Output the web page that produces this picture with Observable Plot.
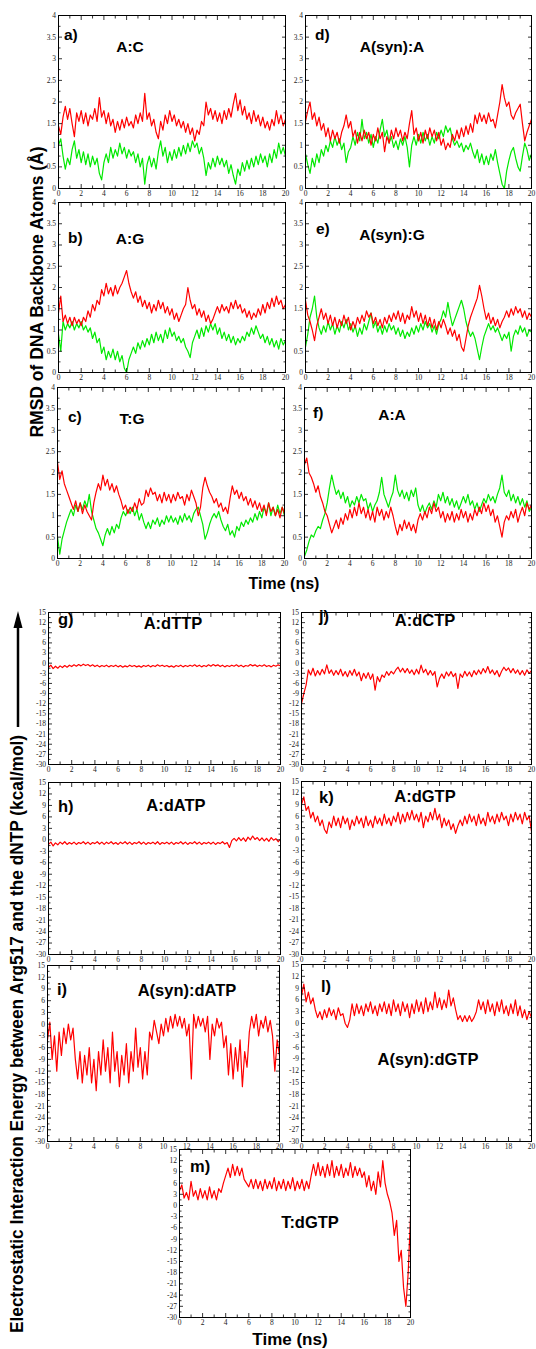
<!DOCTYPE html>
<html><head><meta charset="utf-8">
<script src="https://cdn.jsdelivr.net/npm/d3@7"></script>
<script src="https://cdn.jsdelivr.net/npm/@observablehq/plot@0.6"></script>
<style>
html,body{margin:0;padding:0;background:#fff;overflow:hidden}
#fig{position:relative;width:536px;height:1349px;overflow:hidden;background:#fff}
.p{position:absolute}
</style></head><body><div id="fig"></div>
<script>
// ---------- tick values ----------
const xMajor=[0,2,4,6,8,10,12,14,16,18,20];
const xMinor=[1,3,5,7,9,11,13,15,17,19];
const rmsdMajor=[0,0.5,1,1.5,2,2.5,3,3.5,4];
const rmsdMinor=[0.25,0.75,1.25,1.75,2.25,2.75,3.25,3.75];
const energyMajor=[-30,-27,-24,-21,-18,-15,-12,-9,-6,-3,0,3,6,9,12,15];
const energyMinor=[-28.5,-25.5,-22.5,-19.5,-16.5,-13.5,-10.5,-7.5,-4.5,-1.5,1.5,4.5,7.5,10.5,13.5];

// ---------- RMSD series (Å), one value every 0.2 ns, 0–20 ns ----------
const acRed=[1.45,1.25,1.65,1.9,1.6,1.85,1.5,1.2,1.75,1.55,
1.8,1.5,1.75,1.45,1.7,1.6,1.85,1.55,2.1,1.65,
1.8,1.5,1.75,1.45,1.6,1.3,1.55,1.35,1.6,1.4,
1.65,1.45,1.55,1.4,1.7,1.5,1.75,1.55,2.2,1.6,
1.75,1.45,1.6,1.3,1.15,1.55,1.35,1.7,1.5,1.8,
1.55,1.7,1.45,1.6,1.4,1.55,1.3,1.5,1.25,1.4,
1.1,1.35,1.25,1.55,1.45,2.0,1.7,1.85,1.6,1.8,
1.55,1.75,1.5,1.8,1.6,1.85,1.65,1.95,2.2,1.8,
2.05,1.7,1.9,1.6,1.75,1.5,1.8,1.55,1.7,1.45,
1.65,1.4,1.55,1.35,1.6,1.45,1.8,1.5,1.7,1.45,1.6];
const acGreen=[1.0,1.15,0.75,0.45,0.7,0.55,0.9,1.1,0.7,0.9,
0.6,0.85,0.55,0.8,0.5,0.75,0.55,0.7,0.35,0.2,
0.6,0.8,0.6,0.95,0.7,0.9,0.75,1.05,0.8,0.95,
0.7,0.9,0.75,0.85,0.6,0.8,0.5,0.7,0.1,0.55,
0.75,0.5,0.7,0.45,0.85,1.1,0.75,0.95,0.6,0.85,
0.65,0.9,0.7,0.95,0.75,1.0,0.8,1.05,0.85,1.1,
0.95,1.05,0.8,0.95,0.7,0.3,0.6,0.45,0.7,0.5,
0.75,0.55,0.7,0.5,0.65,0.35,0.55,0.3,0.1,0.45,
0.3,0.6,0.4,0.65,0.45,0.7,0.5,0.75,0.55,0.8,
0.6,0.75,0.5,0.8,0.6,0.9,0.7,1.05,0.8,0.95,0.75];
const asynARed=[1.55,1.8,2.0,1.6,1.75,1.45,1.65,1.35,1.5,1.2,
1.4,1.1,1.35,1.15,1.3,1.05,1.3,1.45,1.7,1.4,
1.55,1.2,1.35,1.05,1.3,1.1,1.35,1.15,1.3,1.0,
1.25,1.1,1.4,1.15,1.3,0.85,1.2,1.05,1.35,1.15,
1.4,1.2,1.35,1.1,1.3,1.15,1.5,1.8,1.25,1.4,
1.1,1.3,1.05,1.35,1.15,1.4,1.2,1.35,1.1,1.3,
1.0,1.15,0.9,1.05,0.95,1.25,1.1,1.35,1.15,1.4,
1.2,1.45,1.25,1.5,1.3,1.7,1.5,1.75,1.55,1.7,
1.5,1.75,1.55,1.6,1.4,1.7,2.0,2.4,2.1,1.9,
2.0,1.7,1.6,1.75,1.85,1.95,1.5,1.1,1.3,1.45,1.6];
const asynAGreen=[0.8,0.55,0.35,0.7,0.5,0.8,0.6,0.9,0.75,1.0,
0.85,1.1,0.95,1.2,1.0,1.15,0.9,1.05,0.6,0.85,
0.95,1.2,1.0,1.3,1.1,1.6,1.15,1.3,1.05,1.25,
0.95,1.2,1.05,1.35,1.6,1.2,1.35,1.05,1.2,0.95,
1.1,0.9,1.15,1.0,1.2,0.95,0.5,1.0,1.2,1.0,
1.25,1.05,1.3,1.1,1.25,1.0,1.2,1.05,1.3,1.15,
1.35,1.2,1.45,1.3,1.4,1.15,1.0,1.1,0.95,1.05,
0.85,1.0,0.9,1.05,0.85,0.7,0.9,0.6,0.8,0.55,
0.75,0.55,0.8,0.65,0.9,0.6,0.35,0.1,0.0,0.4,
0.65,0.85,0.95,0.7,0.5,0.4,0.75,1.05,0.9,0.65,0.8];
const agRed=[1.4,1.8,1.2,1.35,1.15,1.3,1.1,1.3,1.15,1.25,
1.1,1.3,1.2,1.45,1.3,1.6,1.45,1.7,1.6,1.95,
1.8,2.1,1.85,2.0,1.8,2.05,1.85,2.0,2.1,2.25,
2.4,2.1,1.9,1.75,1.9,1.65,1.8,1.55,1.7,1.5,
1.65,1.4,1.6,1.45,1.7,1.5,1.65,1.4,1.55,1.35,
1.5,1.25,1.4,1.2,1.35,1.5,1.6,2.0,1.7,1.5,
1.6,1.35,1.5,1.3,1.45,1.2,1.35,1.15,1.25,1.4,
1.55,1.4,1.6,1.45,1.55,1.4,1.65,1.5,1.7,1.5,
1.6,1.4,1.5,1.3,1.45,1.25,1.4,1.3,1.5,1.35,
1.6,1.4,1.65,1.5,1.75,1.55,1.8,1.6,1.7,1.5,1.6];
const agGreen=[0.9,0.5,1.2,1.0,1.15,1.05,1.2,1.0,1.15,1.05,
1.2,1.0,1.1,0.95,1.05,0.8,0.95,0.7,0.8,0.45,
0.6,0.3,0.5,0.35,0.55,0.3,0.5,0.25,0.4,0.1,
0.0,0.3,0.45,0.6,0.45,0.7,0.55,0.75,0.6,0.8,
0.65,0.9,0.7,0.95,0.75,0.9,0.7,1.0,0.8,1.05,
0.85,0.95,0.75,0.85,0.7,0.8,0.6,0.5,0.35,0.7,
0.85,1.0,0.8,1.05,0.85,1.1,0.95,1.15,1.0,1.15,
0.9,1.05,0.8,0.95,0.75,0.9,0.7,0.85,0.65,0.8,
0.7,0.85,0.75,0.95,0.85,1.05,0.9,1.1,0.95,0.8,
0.9,0.7,0.85,0.65,0.8,0.6,0.75,0.55,0.8,0.65,0.75];
const asynGRed=[1.7,1.35,1.2,1.0,0.75,1.1,1.3,1.5,1.25,1.4,
1.15,1.35,1.1,1.3,1.05,1.25,1.1,1.35,1.15,1.3,
1.0,1.2,1.05,1.3,1.15,1.35,1.2,1.45,1.3,1.4,
1.15,1.3,1.1,1.25,1.05,1.3,1.15,1.35,1.2,1.4,
1.25,1.45,1.2,1.4,1.15,1.35,1.25,1.55,1.3,1.45,
1.2,1.4,1.15,1.35,1.1,1.3,1.05,1.25,1.0,1.2,
1.05,1.25,1.1,0.9,1.05,0.85,1.0,0.75,0.9,0.6,
0.5,0.8,1.1,1.3,1.45,1.6,1.75,2.05,1.8,1.5,
1.25,1.4,1.15,1.3,1.1,1.25,1.05,1.2,1.3,1.45,
1.3,1.5,1.35,1.55,1.4,1.5,1.3,1.45,1.25,1.4,1.3];
const asynGGreen=[0.6,0.9,1.3,1.5,1.8,1.3,1.05,0.9,1.1,0.95,
1.2,1.0,1.15,0.9,1.1,0.95,1.2,1.05,1.25,1.0,
1.15,0.95,1.1,0.85,1.05,0.9,1.15,1.0,1.2,1.4,
1.05,1.2,0.95,1.1,0.9,1.1,0.95,1.15,1.0,1.1,
0.9,1.05,0.85,1.0,0.8,0.95,0.85,1.05,0.9,1.1,
0.95,1.15,1.0,1.2,1.05,1.15,0.95,1.1,0.9,1.15,
1.25,1.45,1.3,1.65,1.35,1.1,1.25,1.4,1.55,1.7,
1.5,1.2,1.0,0.85,0.95,0.8,0.55,0.3,0.6,0.85,
1.0,1.15,1.0,1.1,0.95,1.05,0.9,0.75,0.9,0.8,
0.95,0.5,0.85,1.0,0.9,1.1,0.95,1.05,0.85,1.0,0.95];
const tgRed=[2.25,1.85,2.05,1.75,1.6,1.45,1.3,1.15,1.35,1.1,
1.3,1.05,1.25,1.1,1.0,0.9,1.3,1.55,1.75,1.6,
1.95,1.7,1.85,1.6,1.75,1.55,1.7,1.5,1.35,1.15,
1.25,1.05,1.2,1.1,1.3,1.15,1.4,1.25,1.3,1.6,
1.45,1.65,1.5,1.55,1.35,1.5,1.3,1.55,1.35,1.5,
1.3,1.5,1.35,1.55,1.4,1.45,1.25,1.5,1.35,1.6,
1.45,1.3,1.0,1.2,1.65,1.9,1.7,1.55,1.45,1.3,
1.4,1.2,1.3,1.1,1.2,1.05,1.4,1.7,1.5,1.6,
1.4,1.55,1.35,1.45,1.25,1.4,1.2,1.35,1.15,1.3,
1.1,1.25,1.0,1.3,1.1,1.2,1.0,1.15,0.95,1.2,1.05];
const tgGreen=[0.5,0.1,0.45,0.65,0.85,1.0,1.15,1.0,1.25,1.1,
1.3,1.15,1.35,1.2,1.5,1.1,0.9,0.7,0.6,0.45,
0.3,0.55,0.7,0.55,0.75,0.6,0.8,0.7,0.95,1.1,
1.0,1.15,1.05,1.2,1.0,1.15,0.9,1.05,0.85,0.7,
0.85,0.7,0.9,0.8,0.95,0.75,0.9,0.8,1.0,0.85,
1.0,0.85,0.95,0.8,1.0,0.85,1.05,0.9,1.0,0.85,
1.05,1.15,1.2,1.0,0.8,0.45,0.6,0.8,0.95,1.05,
0.95,1.1,0.9,0.75,0.65,0.8,0.55,0.65,0.5,0.75,
0.65,0.85,0.75,0.9,0.8,0.95,0.85,1.05,0.9,1.1,
0.95,1.2,1.05,1.3,1.0,1.2,1.0,1.25,1.05,1.2,1.0];
const aaRed=[2.2,2.35,2.0,1.9,1.75,1.55,1.7,1.45,1.3,1.1,
1.0,0.8,0.6,0.75,0.9,0.7,0.95,0.8,1.05,0.9,
1.15,0.95,1.2,1.0,1.3,1.05,1.2,0.95,1.15,0.9,
1.1,0.85,1.2,1.0,1.15,0.9,1.1,0.95,1.2,1.0,
0.75,0.55,0.8,0.65,0.9,0.7,0.85,0.65,0.8,0.6,
0.9,1.05,0.9,1.1,0.95,1.2,1.05,1.3,1.1,1.2,
0.95,1.1,0.85,1.05,0.9,1.1,0.85,1.05,0.9,1.15,
0.95,1.1,0.85,1.05,0.9,1.15,1.0,1.2,1.05,1.3,
1.1,1.25,1.0,1.15,0.85,1.0,0.75,0.5,0.85,1.0,
0.9,1.1,0.95,1.15,0.85,1.05,1.2,1.0,1.3,1.15,1.25];
const aaGreen=[0.05,0.2,0.4,0.55,0.5,0.65,0.75,0.7,0.9,1.05,
1.3,1.65,1.95,1.7,1.5,1.6,1.4,1.55,1.3,1.45,
1.2,1.35,1.25,1.45,1.3,1.5,1.35,1.4,1.15,1.3,
1.1,1.25,1.35,1.55,1.9,1.5,1.35,1.2,1.4,1.55,
1.95,1.6,1.45,1.6,1.4,1.55,1.35,1.6,1.45,1.65,
1.25,1.1,1.25,1.05,1.2,1.3,1.15,1.35,1.2,1.5,
1.35,1.55,1.3,1.45,1.25,1.4,1.2,1.35,1.15,1.3,
1.45,1.3,1.5,1.25,1.35,1.15,1.3,1.1,1.25,1.4,
1.3,1.5,1.35,1.45,1.3,1.5,1.65,1.95,1.55,1.45,
1.6,1.35,1.5,1.3,1.45,1.25,1.4,1.2,1.35,1.1,1.2];

// ---------- Electrostatic energy series (kcal/mol), every 0.2 ns ----------
const dTTP=[-1.2,-0.6,-1.6,-0.9,-1.5,-0.8,-1.3,-0.7,-1.2,-0.6,
-1.0,-0.5,-0.9,-0.4,-0.8,-0.3,-0.7,-0.4,-0.9,-0.5,
-1.0,-0.6,-1.1,-0.7,-1.0,-0.6,-1.1,-0.7,-1.0,-0.6,
-1.1,-0.7,-1.2,-0.8,-1.1,-0.6,-1.0,-0.7,-1.1,-0.8,
-1.2,-0.7,-1.0,-0.6,-1.1,-0.7,-1.0,-0.5,-0.9,-0.6,
-1.0,-0.7,-1.1,-0.8,-1.2,-0.7,-1.0,-0.6,-1.1,-0.7,
-1.0,-0.6,-0.9,-0.5,-1.0,-0.6,-1.1,-0.7,-1.0,-0.5,
-0.9,-0.4,-0.8,-0.5,-1.0,-0.6,-1.1,-0.7,-1.0,-0.6,
-0.9,-0.5,-1.0,-0.6,-1.1,-0.7,-0.9,-0.4,-0.8,-0.5,
-1.0,-0.6,-0.9,-0.5,-1.0,-0.7,-1.1,-0.6,-0.9,-0.5,-0.8];
const dCTP=[-12,-9,-6.5,-2,-3.5,-1.5,-3.8,-2.2,-3.5,-1.8,
-3.2,-0.5,-3.0,-2.0,-3.6,-2.2,-3.4,-1.8,-3.8,-2.5,
-4.0,-2.2,-3.6,-1.8,-3.8,-2.6,-5.2,-3.0,-4.5,-2.8,
-4.8,-3.2,-8.0,-4.0,-5.5,-3.5,-4.2,-2.5,-3.6,-2.4,
-3.2,-2.0,-1.2,-2.6,-1.5,-2.8,-1.6,-3.0,-2.0,-3.4,
-1.8,-3.2,-0.6,-2.8,-1.8,-3.5,-2.2,-3.6,-2.5,-7.0,
-4.5,-3.2,-4.5,-2.6,-3.8,-2.5,-4.0,-3.0,-7.5,-3.2,
-4.2,-2.4,-3.8,-2.6,-4.0,-2.2,-3.4,-2.0,-3.2,-1.6,
-2.8,-1.0,-3.0,-2.0,-3.4,-2.2,-4.0,-2.4,-1.2,-2.2,
-1.4,-2.8,-1.6,-3.0,-2.0,-3.4,-2.2,-3.6,-2.0,-3.0,-2.2];
const dATP=[-1.2,-0.6,-1.6,-0.8,-1.3,-0.6,-1.1,-0.5,-1.2,-0.7,
-1.1,-0.6,-1.2,-0.7,-1.0,-0.5,-1.1,-0.6,-1.2,-0.7,
-1.0,-0.5,-1.1,-0.6,-1.2,-0.6,-1.0,-0.5,-1.1,-0.7,
-1.2,-0.6,-1.0,-0.5,-1.1,-0.6,-1.2,-0.7,-1.0,-0.5,
-1.1,-0.6,-1.2,-0.7,-1.0,-0.6,-1.1,-0.5,-1.2,-0.7,
-1.0,-0.6,-1.1,-0.6,-1.2,-0.7,-1.0,-0.5,-1.1,-0.6,
-1.2,-0.7,-1.0,-0.5,-1.1,-0.6,-1.2,-0.7,-1.0,-0.6,
-1.1,-0.6,-1.2,-0.7,-1.0,-0.5,-1.1,-0.7,-2.0,-0.2,
0.4,-0.3,0.6,-0.2,0.5,-0.4,0.7,0.0,1.0,0.1,
0.6,-0.2,0.5,-0.3,0.4,-0.4,0.6,-0.1,0.3,-0.5,0.2];
const dGTP=[9,11,7.5,8.5,5.5,7,4.5,6,3.5,5,
2.5,1.5,4.5,3,6,3.5,5.5,3,6,4,
5.5,2.5,5,3.5,6,4,5.5,3,6,3.5,
5,3,6,4,5.5,3.5,6.5,4,5.5,3.5,
6,4.5,7,4,6.5,4.5,7,5,7.5,5,
6.5,4.5,7,3,6,4.5,7,5,8,5,
6.5,3,5.5,3.5,5,2.5,4,1.5,3.5,5,
3.5,6,4,6.5,4.5,6,3.5,6.5,4,5.5,
3.5,7,4.5,6,4,6.5,4.5,7,5,6,
3.5,6.5,4.5,7,5,6.5,4,7,5,6,2];
const synDATP=[-4,0.5,-9,-3,-12,-2,-8,-1,-5,0,
-4,-1,-9,-14,-7,-15,-8,-13,-6,-15,
-9,-17,-7,-13,-4,-12,-6,-15,-2,-12,
-7,-16,-8,-13,-5,-15,-7,-12,-1,-11,
-6,-14,-7,-13,-2,-4,1,-2,-5,0,
-3,1.5,-2,2,-1,2.5,-0.5,2,-1,1.5,
-3,0,-14,2.5,-1,2,-0.5,1.5,-2,2,
-9,0,-3,1.5,-1,0.5,-6,-3,-13,-5,
-14,-6,-12,-4,-16,-7,-11,-2,2,-1,
2.5,-3,1,-1,2,-2,1,-3,-12,-4,-8];
const synDGTP=[7,10,5.5,8,5,6.5,3.5,1.5,3,1,
3.5,1.5,4,2,3.5,1,4,2,2.5,0,
-1,1,5,2,5,2.5,4.5,2,5,3,
5.5,2.5,4.5,2,5,3,5.5,2.5,5,2,
6,3,5,2,5.5,3,5,1.5,5,2.5,
6,3,5.5,2.5,6.5,3,5.5,3.5,8,4,
6.5,3.5,6,4,8.5,4.5,6.5,3.5,1,2,
0.5,2,0.5,2,0.5,1.5,3,6,3.5,5.5,
2.5,6,3,5,2,5.5,3,6,2.5,4.5,
2,5,2.5,6,2,4.5,1.5,3.5,1,3,1.5];
const tDGTP=[4,5.5,2,3.5,1.5,6.5,2.5,4,1.5,4.5,
2,4,1.5,5,2,4,1.5,4.5,3.5,6,
8,10,7.5,11,8,10.5,8,10,7,6,
5,7,4.5,7,4.5,6.5,4,7,4.5,6.5,
4.5,7.5,4,6.5,4.5,7,4,6.5,4.5,7.5,
4,6.5,4.5,7,4,6.5,4.5,8,11,8,
11.5,8,10.5,7.5,11,8,12,7.5,10.5,8,
11,7.5,10,8,11.5,7.5,10.5,8,10,7.5,
9,5,8,4,6.5,3,9,5,12,6,
3,1,-2,-8,-4,-15,-12,-22,-27,-18,-3];

// ---------- layout (page pixel frames) ----------
const layout=[
 {kind:"rmsd",L:58,R:285,T:15,B:188,series:[acGreen,acRed],letter:"a)",title:"A:C",lp:[6,25],tp:[72,37]},
 {kind:"rmsd",L:305,R:531,T:15,B:188,series:[asynAGreen,asynARed],letter:"d)",title:"A(syn):A",lp:[10,25],tp:[87,37]},
 {kind:"rmsd",L:58,R:285,T:202,B:372,series:[agGreen,agRed],letter:"b)",title:"A:G",lp:[10,41],tp:[72,42]},
 {kind:"rmsd",L:305,R:531,T:202,B:372,series:[asynGGreen,asynGRed],letter:"e)",title:"A(syn):G",lp:[11,32],tp:[87,38]},
 {kind:"rmsd",L:57,R:284,T:387,B:558,series:[tgGreen,tgRed],letter:"c)",title:"T:G",lp:[11,35],tp:[75,37]},
 {kind:"rmsd",L:304,R:531,T:387,B:558,series:[aaGreen,aaRed],letter:"f)",title:"A:A",lp:[9,31],tp:[88,33]},
 {kind:"energy",L:48,R:280,T:612,B:764,series:[dTTP],letter:"g)",title:"A:dTTP",lp:[10,13],tp:[125,17]},
 {kind:"energy",L:301,R:531,T:612,B:764,series:[dCTP],letter:"j)",title:"A:dCTP",lp:[18,10],tp:[124,14]},
 {kind:"energy",L:48,R:280,T:782,B:954,series:[dATP],letter:"h)",title:"A:dATP",lp:[10,30],tp:[128,29]},
 {kind:"energy",L:301,R:531,T:781,B:954,series:[dGTP],letter:"k)",title:"A:dGTP",lp:[18,22],tp:[124,21]},
 {kind:"energy",L:47,R:279,T:965,B:1141,series:[synDATP],letter:"i)",title:"A(syn):dATP",lp:[10,30],tp:[140,31]},
 {kind:"energy",L:301,R:531,T:964,B:1141,series:[synDGTP],letter:"l)",title:"A(syn):dGTP",lp:[20,28],tp:[127,101]},
 {kind:"energy",L:179,R:410,T:1149,B:1317,series:[tDGTP],letter:"m)",title:"T:dGTP",lp:[11,23],tp:[131,79]}
];

const GREEN="#00e800", RED="#ff0000";
const fig=document.getElementById("fig");
const mL=30,mR=8,mT=8,mB=16;
const serif="'Liberation Serif','Times New Roman',serif";

for(const p of layout){
  const W=p.R-p.L, H=p.B-p.T, E=p.kind==="energy";
  const yMaj=E?energyMajor:rmsdMajor, yMin=E?energyMinor:rmsdMinor;
  const colors=E?[RED]:[GREEN,RED];
  const lines=p.series.map((vals,si)=>Plot.line(
    vals.map((v,i)=>({t:i*20/(vals.length-1),v})),
    {x:"t",y:"v",stroke:colors[si],strokeWidth:1.2,clip:true}));
  const tk={label:null,fill:"none",stroke:"#000",strokeWidth:0.8};
  const lab={label:null,tickSize:0,fontSize:7.5,fontFamily:serif,fill:"#222",tickFormat:d=>String(d)};
  const svg=Plot.plot({
    width:W+mL+mR,height:H+mT+mB,
    marginLeft:mL,marginRight:mR,marginTop:mT,marginBottom:mB,
    x:{domain:[0,20]},y:{domain:E?[-30,15]:[0,4]},
    style:{background:"transparent",maxWidth:"none",overflow:"visible"},
    marks:[
      ...lines,
      Plot.frame({stroke:"#000",strokeWidth:1}),
      Plot.axisX(xMajor,{...tk,anchor:"bottom",tickSize:-4}),
      Plot.axisX(xMinor,{...tk,anchor:"bottom",tickSize:-2.5}),
      Plot.axisX(xMajor,{...tk,anchor:"top",tickSize:-4}),
      Plot.axisX(xMinor,{...tk,anchor:"top",tickSize:-2.5}),
      Plot.axisY(yMaj,{...tk,anchor:"left",tickSize:-4}),
      Plot.axisY(yMin,{...tk,anchor:"left",tickSize:-2.5}),
      Plot.axisY(yMaj,{...tk,anchor:"right",tickSize:-4}),
      Plot.axisY(yMin,{...tk,anchor:"right",tickSize:-2.5}),
      Plot.axisX(xMajor,{...lab,anchor:"bottom",tickPadding:2}),
      Plot.axisY(yMaj,{...lab,anchor:"left",tickPadding:2.5})
    ]
  });
  const div=document.createElement("div");
  div.className="p";
  div.style.left=(p.L-mL)+"px";
  div.style.top=(p.T-mT)+"px";
  div.style.width=(W+mL+mR)+"px";
  div.append(svg);
  fig.append(div);
}

// ---------- text overlay ----------
const ov=d3.select("#fig").append("svg")
  .attr("width",536).attr("height",1349)
  .style("position","absolute").style("left","0px").style("top","0px")
  .style("pointer-events","none");
function txt(x,y,s,size,anchor="start",rot=0,len=null){
  const t=ov.append("text").attr("x",x).attr("y",y)
    .attr("font-family","'Liberation Sans',Arial,Helvetica,sans-serif")
    .attr("font-weight","bold").attr("font-size",size)
    .attr("text-anchor",anchor).attr("fill","#000").text(s);
  if(rot) t.attr("transform",`rotate(${rot},${x},${y})`);
  if(len) t.attr("textLength",len).attr("lengthAdjust","spacingAndGlyphs");
  return t;
}
for(const p of layout){
  const fs=p.kind==="energy"?16.5:15.5;
  txt(p.L+p.lp[0],p.T+p.lp[1],p.letter,fs);
  txt(p.L+p.tp[0],p.T+p.tp[1],p.title,fs,"middle");
}
txt(284,589,"Time (ns)",16,"middle");
txt(290,1345,"Time (ns)",17,"middle");
txt(43,292,"RMSD of DNA Backbone Atoms (Å)",19,"middle",-90,291);
txt(23,1034,"Electrostatic Interaction Energy between Arg517 and the dNTP (kcal/mol)",18,"middle",-90,598);
ov.append("line").attr("x1",18).attr("x2",18).attr("y1",727).attr("y2",624)
  .attr("stroke","#000").attr("stroke-width",2.5);
ov.append("polygon").attr("points","18,611 13.5,628 22.5,628").attr("fill","#000");
</script></body></html>
